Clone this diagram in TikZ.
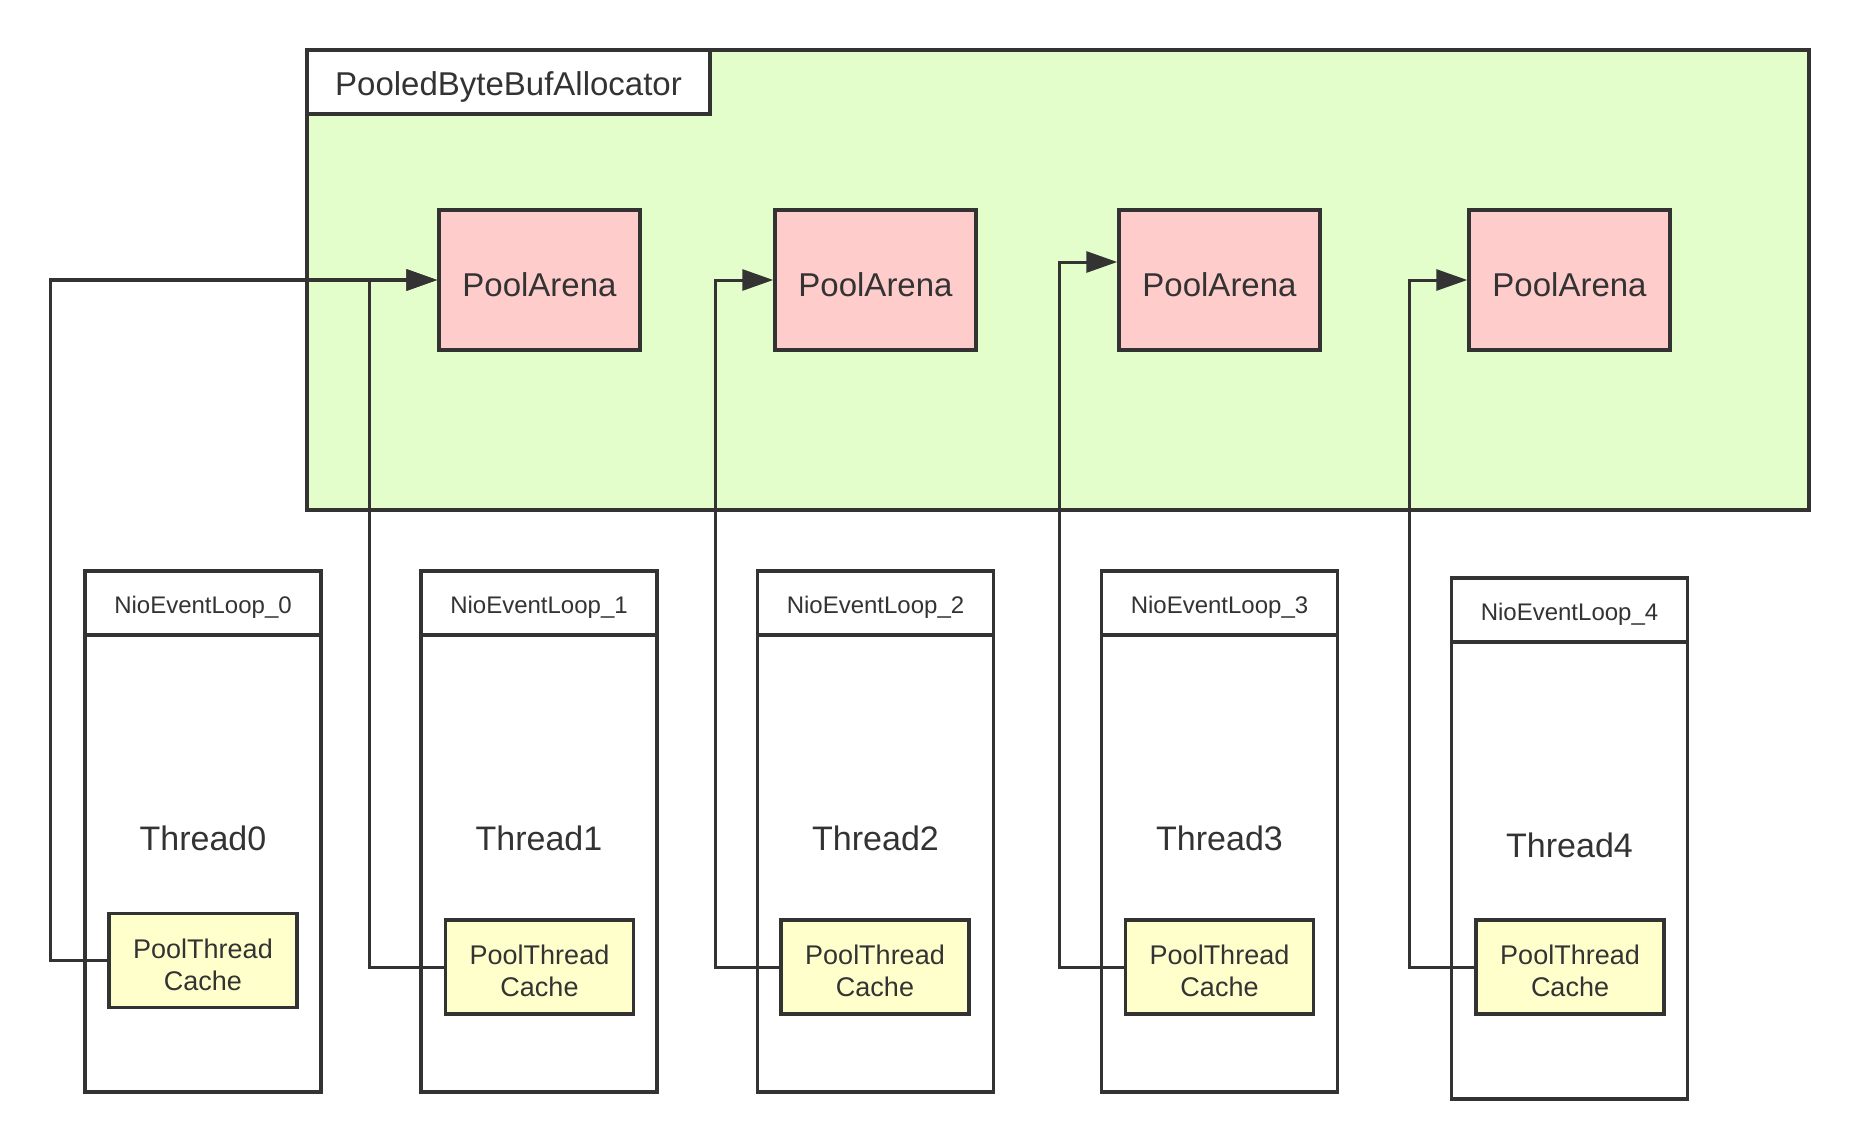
\documentclass[tikz,border=0pt]{standalone}
\usepackage{fontspec}
\setmainfont{Liberation Sans}
\usetikzlibrary{arrows.meta}
\definecolor{ink}{HTML}{333333}
\definecolor{allocfill}{HTML}{E3FDCB}
\definecolor{arenafill}{HTML}{FFCCCC}
\definecolor{cachefill}{HTML}{FFFFCC}
\tikzset{
  box/.style={draw=ink, line width=3.5pt, inner sep=0pt, text=ink, align=center},
  txt/.style={text=ink, inner sep=0pt, align=center},
  bigtxt/.style={txt, yshift=-5pt, font=\fontsize{33}{39}\selectfont},
  hdrtxt/.style={txt, yshift=-5pt, font=\fontsize{24}{29}\selectfont},
  cachetxt/.style={txt, yshift=-4pt, font=\fontsize{27}{32}\selectfont},
  arenabox/.style={box, fill=arenafill, minimum width=201pt, minimum height=140pt,
     label={[bigtxt]center:PoolArena}},
  hdrbox/.style={box, fill=white, minimum width=236pt, minimum height=64pt},
  loopbox/.style={box, fill=white, minimum width=236pt, minimum height=457pt},
  cachebox/.style={box, fill=cachefill, minimum width=188pt, minimum height=94pt,
     label={[cachetxt]center:PoolThread\\Cache}},
  threadtxt/.style={txt, font=\fontsize{34}{40}\selectfont},
  conn/.style={draw=ink, line width=3pt, -{Triangle[length=31pt,width=21pt]}},
}
\begin{document}
\begin{tikzpicture}[x=1pt,y=-1pt]
\useasboundingbox (0,0) rectangle (1859,1145);
% allocator
\node[box, fill=allocfill, minimum width=1502pt, minimum height=460pt] (alloc) at (1058,280) {};
\node[box, fill=white, minimum width=403pt, minimum height=64pt,
      label={[bigtxt]center:PooledByteBufAllocator}] (title) at (508.5,82) {};
% arenas
\node[arenabox] (a1) at (539.5,280) {};
\node[arenabox] (a2) at (875.5,280) {};
\node[arenabox] (a3) at (1219.5,280) {};
\node[arenabox] (a4) at (1569.5,280) {};
% event loops
\foreach \i/\x/\t in {0/203/569, 1/539/569, 2/875.5/569, 3/1219.5/569, 4/1569.5/576} {
  \node[loopbox, anchor=north] (loop\i) at (\x,\t+64) {};
  \node[hdrbox, anchor=north, label={[hdrtxt]center:NioEventLoop\_\i}] (hdr\i) at (\x,\t) {};
  \node[threadtxt] (th\i) at (\x,\t+269) {Thread\i};
}
\node[cachebox] (c0) at (203,960.5) {};
\node[cachebox] (c1) at (539.5,967) {};
\node[cachebox] (c2) at (875,967) {};
\node[cachebox] (c3) at (1219.5,967) {};
\node[cachebox] (c4) at (1570,967) {};
% connectors
\coordinate (k0) at (50.5,0);
\coordinate (k1) at (369,0);
\coordinate (k2) at (715,0);
\coordinate (k3) at (1059,0);
\coordinate (k4) at (1409,0);
\draw[conn, line width=3.5pt] (c0.west) -| (k0 |- a1.west) -- (a1.west);
\draw[conn] (c1.west) -| (k1 |- a1.west) -- (a1.west);
\draw[conn] (c2.west) -| (k2 |- a2.west) -- (a2.west);
\draw[conn] (c3.west) -| ([yshift=18pt]k3 |- a3.west) -- ([yshift=18pt]a3.west);
\draw[conn] (c4.west) -| (k4 |- a4.west) -- (a4.west);
\end{tikzpicture}
\end{document}
